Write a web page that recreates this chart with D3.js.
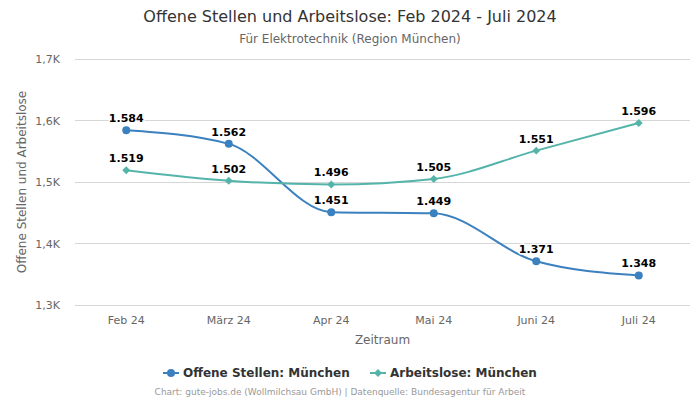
<!DOCTYPE html>
<html><head><meta charset="utf-8">
<script src="https://cdn.jsdelivr.net/npm/d3@7"></script>
<style>body{margin:0;background:#fff}svg{font-family:"DejaVu Sans",sans-serif}</style>
</head><body><svg id="c" width="700" height="400"></svg>
<script>
const categories = ["Feb 24","März 24","Apr 24","Mai 24","Juni 24","Juli 24"];
const offeneStellen = [1584,1562,1451,1449,1371,1348];
const arbeitslose = [1519,1502,1496,1505,1551,1596];
const yTicks = [1300,1400,1500,1600,1700];
const seriesNames = ["Offene Stellen: München","Arbeitslose: München"];

(function(){
const svg = d3.select("#c");
const pL=75,pR=690,pT=59,pB=305;
const x = d3.scaleBand().domain(categories).range([pL,pR]);
const y = d3.scaleLinear().domain([1300,1700]).range([pB,pT]);
const fmt = v => d3.format(",")(v).replace(",",".");
const fmtK = v => (v/1000).toFixed(1).replace(".",",")+"K";

svg.append("text").attr("x",350).attr("y",22).attr("text-anchor","middle").attr("font-size",16).attr("fill","#333").text("Offene Stellen und Arbeitslose: Feb 2024 - Juli 2024");
svg.append("text").attr("x",350).attr("y",43).attr("text-anchor","middle").attr("font-size",12).attr("fill","#666").text("Für Elektrotechnik (Region München)");

const gy = svg.append("g");
yTicks.forEach(t=>{
  gy.append("line").attr("x1",pL).attr("x2",pR).attr("y1",y(t)).attr("y2",y(t)).attr("stroke","#d6d6d6").attr("stroke-width",1).attr("shape-rendering","crispEdges");
  gy.append("text").attr("x",60).attr("y",y(t)+4).attr("text-anchor","end").attr("font-size",11).attr("fill","#666").text(fmtK(t));
});
svg.append("text").attr("transform",`translate(26,${(pT+pB)/2}) rotate(-90)`).attr("text-anchor","middle").attr("font-size",12).attr("fill","#666").text("Offene Stellen und Arbeitslose");

categories.forEach(c=>{
  svg.append("text").attr("x",x(c)+x.bandwidth()/2).attr("y",324).attr("text-anchor","middle").attr("font-size",11).attr("fill","#666").text(c);
});
svg.append("text").attr("x",(pL+pR)/2).attr("y",344).attr("text-anchor","middle").attr("font-size",12).attr("fill","#666").text("Zeitraum");

const cx = c => x(c)+x.bandwidth()/2;
const line = d3.line().x((d,i)=>cx(categories[i])).y(d=>y(d)).curve(d3.curveMonotoneX);
const colors = ["#3b80bf","#55b4aa"];
[offeneStellen, arbeitslose].forEach((s,k)=>{
  svg.append("path").attr("d",line(s)).attr("fill","none").attr("stroke",colors[k]).attr("stroke-width",2);
  s.forEach((v,i)=>{
    const px=cx(categories[i]), py=y(v);
    if(k===0) svg.append("circle").attr("cx",px).attr("cy",py).attr("r",4).attr("fill",colors[k]);
    else svg.append("path").attr("d",d3.symbol(d3.symbolDiamond2,40)()).attr("transform",`translate(${px},${py})`).attr("fill",colors[k]);
    svg.append("text").attr("x",px).attr("y",py-8).attr("text-anchor","middle").attr("font-size",11).attr("font-weight","bold").attr("fill","#000")
      .attr("stroke","#fff").attr("stroke-width",3).attr("paint-order","stroke").attr("stroke-linejoin","round").text(fmt(v));
  });
});

const lg = svg.append("g");
const items=[{x:163,name:seriesNames[0],k:0},{x:370,name:seriesNames[1],k:1}];
items.forEach(it=>{
  lg.append("line").attr("x1",it.x).attr("x2",it.x+16).attr("y1",373).attr("y2",373).attr("stroke",colors[it.k]).attr("stroke-width",2);
  if(it.k===0) lg.append("circle").attr("cx",it.x+8).attr("cy",373).attr("r",4).attr("fill",colors[0]);
  else lg.append("path").attr("d",d3.symbol(d3.symbolDiamond2,40)()).attr("transform",`translate(${it.x+8},373)`).attr("fill",colors[1]);
  lg.append("text").attr("x",it.x+20).attr("y",377).attr("font-size",12).attr("font-weight","bold").attr("fill","#333").text(it.name);
});
svg.append("text").attr("x",340).attr("y",395).attr("text-anchor","middle").attr("font-size",9).attr("fill","#999").text("Chart: gute-jobs.de (Wollmilchsau GmbH) | Datenquelle: Bundesagentur für Arbeit");
})();
</script></body></html>
